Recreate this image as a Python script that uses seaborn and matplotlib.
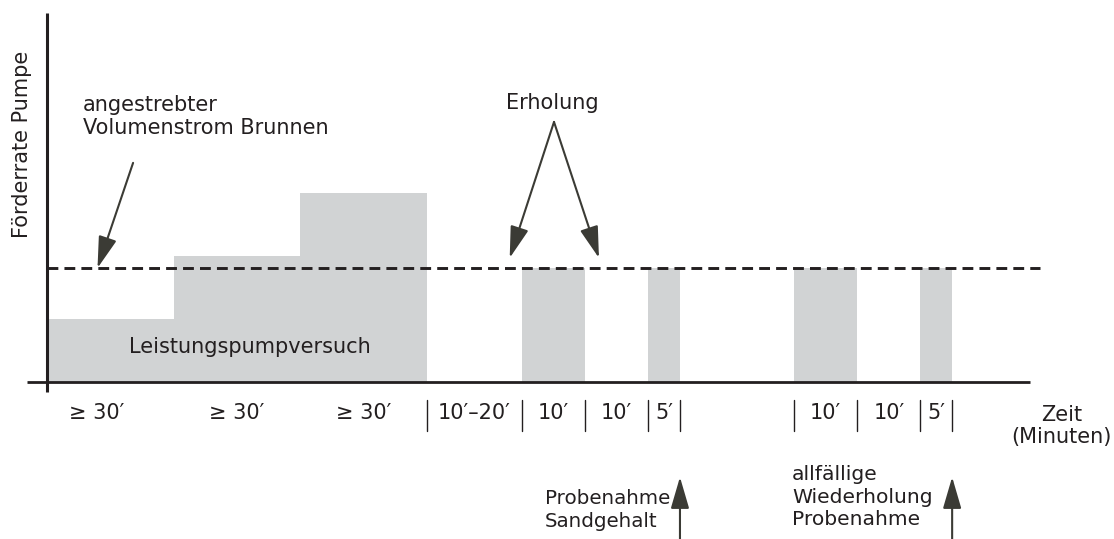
import numpy as np
import pandas as pd
import matplotlib.pyplot as plt
import seaborn as sns

# Ablauf des Pumpversuchs (Zeitabschnitte und Förderrate, relative Einheiten)
segment_labels = ["≥ 30′", "≥ 30′", "≥ 30′", "10′–20′", "10′", "10′", "5′", "", "10′", "10′", "5′"]
segment_lengths = [20, 20, 20, 15, 10, 10, 5, 18, 10, 10, 5]
segment_rates = [1.0, 2.0, 3.0, 0.0, 1.81, 0.0, 1.81, 0.0, 1.81, 0.0, 1.81]
target_rate = 1.81

edges = [0.0] + [float(v) for v in np.cumsum(segment_lengths)]
centers = [(a + b) / 2 for a, b in zip(edges[:-1], edges[1:])]
df = pd.DataFrame({'zeit': centers, 'rate': segment_rates, 'label': segment_labels})

sns.set_theme(style='white')
plt.rcParams['font.family'] = ['DejaVu Sans']
plt.rcParams['lines.scale_dashes'] = False

ink = '#231f20'
arrow_col = '#3b3b35'
fs = 15

fig = plt.figure(figsize=(11.14, 5.39), dpi=100)
ax = fig.add_axes([47 / 1114, 157 / 539, 983 / 1114, 369 / 539])

sns.histplot(data=df, x='zeit', weights='rate', bins=edges, stat='count',
             color='#d1d3d4', alpha=1, linewidth=0, ax=ax)

ax.set_xlim(0, 155.3)
ax.set_ylim(0, 5.86)
ax.set_axis_off()

# Achsen
ax.plot([-3.2, 155.3], [0, 0], color=ink, lw=2, clip_on=False, solid_capstyle='butt')
ax.plot([0, 0], [-0.16, 5.86], color=ink, lw=2.2, clip_on=False, solid_capstyle='butt')

# angestrebter Volumenstrom
ax.plot([0, 156.9], [target_rate, target_rate], color=ink, lw=2.1,
        dashes=(7.8, 4.4), clip_on=False)

# Trennstriche und Zeitangaben
for x in edges[3:]:
    ax.plot([x, x], [-0.29, -0.78], color=ink, lw=1, clip_on=False)
for i, (c, lab) in enumerate(zip(centers, segment_labels)):
    if lab:
        shift = -2.2 if i == 0 else 0
        ax.text(c + shift, -0.49, lab, ha='center', va='center', fontsize=fs,
                color=ink, clip_on=False)

ax.text(160.3, -0.70, 'Zeit\n(Minuten)', ha='center', va='center', fontsize=fs,
        color=ink, linespacing=1.15, clip_on=False)

arrow = dict(arrowstyle='-|>,head_length=1.3,head_width=0.38', mutation_scale=15,
             lw=1.5, color=arrow_col, shrinkA=0, shrinkB=0)

ax.text(5.69, 4.22, 'angestrebter\nVolumenstrom Brunnen', ha='left', va='center',
        fontsize=fs, color=ink, linespacing=1.2)
ax.annotate('', xy=(7.98, target_rate), xytext=(13.6, 3.48), arrowprops=arrow)

ax.text(79.9, 4.43, 'Erholung', ha='center', va='center', fontsize=fs, color=ink)
ax.annotate('', xy=(73.1, 1.97), xytext=(80.1, 4.13), arrowprops=arrow)
ax.annotate('', xy=(87.2, 1.97), xytext=(80.1, 4.13), arrowprops=arrow)

ax.text(32.1, 0.56, 'Leistungspumpversuch', ha='center', va='center', fontsize=fs, color=ink)

ax.text(78.7, -2.03, 'Probenahme\nSandgehalt', ha='left', va='center', fontsize=14.3,
        color=ink, linespacing=1.25, clip_on=False)
ax.text(117.7, -1.83, 'allfällige\nWiederholung\nProbenahme', ha='left', va='center',
        fontsize=14.6, color=ink, linespacing=1.22, clip_on=False)
for x in [edges[7], edges[-1]]:
    ax.annotate('', xy=(x, -1.51), xytext=(x, -2.6), arrowprops=arrow,
                annotation_clip=False)

fig.text(22 / 1114, 1 - 144 / 539, 'Förderrate Pumpe', rotation=90, ha='center',
         va='center', fontsize=fs, color=ink)

plt.savefig('out.png', dpi=100)
